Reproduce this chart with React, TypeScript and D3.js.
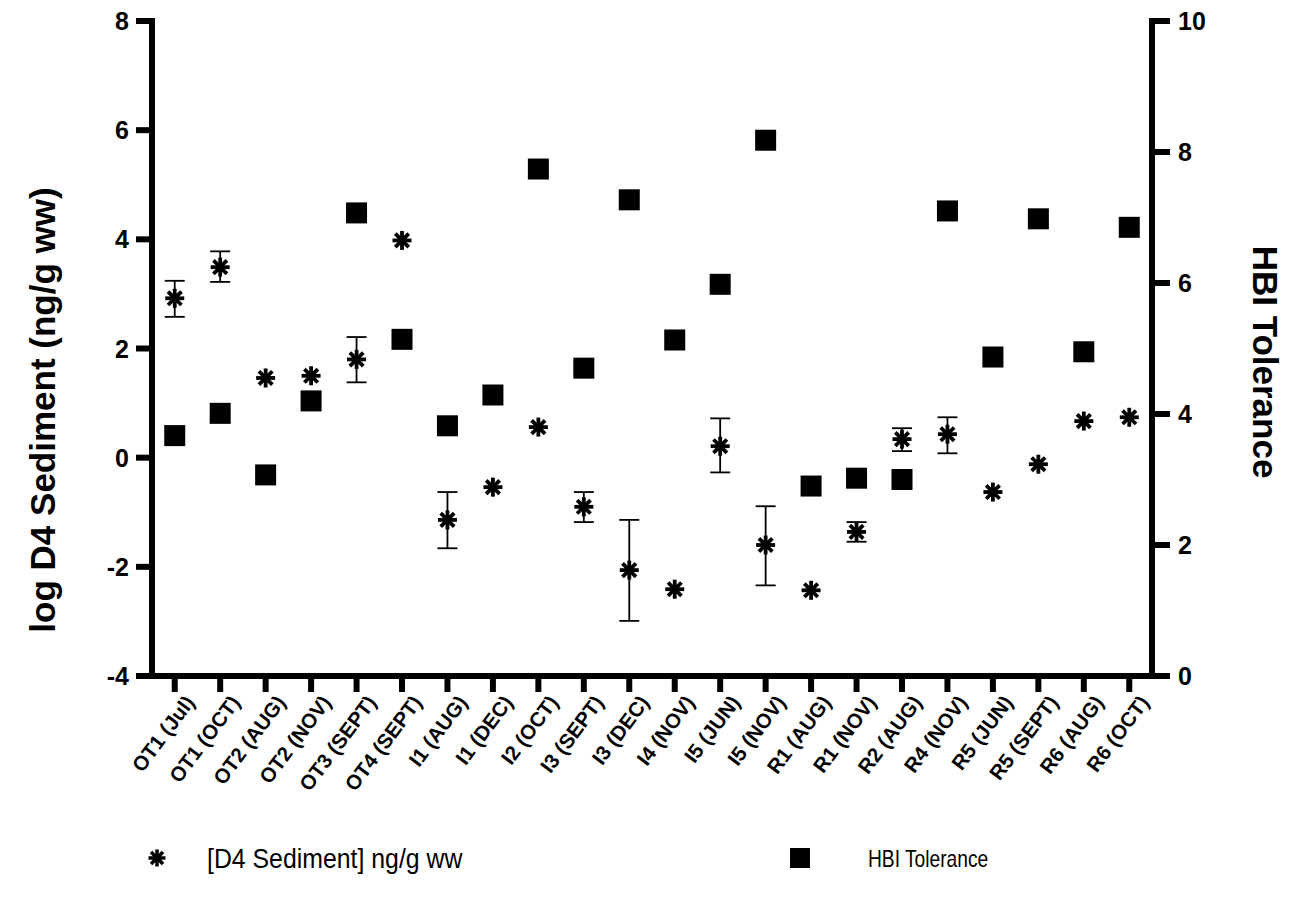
import React from "react";
import * as d3 from "d3";

const categories = ["OT1 (Jul)", "OT1 (OCT)", "OT2 (AUG)", "OT2 (NOV)", "OT3 (SEPT)", "OT4 (SEPT)", "I1 (AUG)", "I1 (DEC)", "I2 (OCT)", "I3 (SEPT)", "I3 (DEC)", "I4 (NOV)", "I5 (JUN)", "I5 (NOV)", "R1 (AUG)", "R1 (NOV)", "R2 (AUG)", "R4 (NOV)", "R5 (JUN)", "R5 (SEPT)", "R6 (AUG)", "R6 (OCT)"];
const d4Values = [2.92, 3.49, 1.46, 1.5, 1.8, 3.98, -1.14, -0.54, 0.56, -0.9, -2.06, -2.41, 0.21, -1.6, -2.43, -1.36, 0.34, 0.43, -0.63, -0.12, 0.67, 0.74];
const d4Upper: (number | null)[] = [3.24, 3.78, null, null, 2.21, null, -0.63, null, null, -0.63, -1.14, null, 0.72, -0.89, null, -1.18, 0.54, 0.74, null, null, null, null];
const d4Lower: (number | null)[] = [2.58, 3.22, null, null, 1.38, null, -1.66, null, null, -1.18, -2.99, null, -0.27, -2.34, null, -1.54, 0.12, 0.08, null, null, null, null];
const hbiValues = [3.67, 4.01, 3.07, 4.2, 7.07, 5.14, 3.82, 4.29, 7.74, 4.7, 7.27, 5.13, 5.98, 8.18, 2.9, 3.02, 3.0, 7.1, 4.87, 6.98, 4.95, 6.85];
const leftTicks = [-4, -2, 0, 2, 4, 6, 8];
const rightTicks = [0, 2, 4, 6, 8, 10];

const FONT = "'Liberation Sans', Arial, sans-serif";

function Asterisk({ cx, cy, r = 9.5, sw = 3.8 }: { cx: number; cy: number; r?: number; sw?: number }) {
  const arms = [0, 45, 90, 135];
  return (
    <g>
      {arms.map((a) => {
        const rad = (a * Math.PI) / 180;
        const dx = Math.cos(rad) * r;
        const dy = Math.sin(rad) * r;
        return <line key={a} x1={cx - dx} y1={cy - dy} x2={cx + dx} y2={cy + dy} stroke="#000" strokeWidth={sw} />;
      })}
    </g>
  );
}

export default function App() {
  const left = 152, right = 1152, top = 21, bottom = 676;
  const x = d3.scaleBand<string>().domain(categories).range([left, right]);
  const xc = (c: string) => (x(c) as number) + x.bandwidth() / 2;
  const yL = d3.scaleLinear().domain([-4, 8]).range([bottom, top]);
  const yR = d3.scaleLinear().domain([0, 10]).range([bottom, top]);
  const axisW = 6;
  const tickLen = 16;
  const sq = 21;

  return (
    <svg width={1300} height={907} style={{ position: "absolute", left: 0, top: 0, background: "#fff" }} fontFamily={FONT}>
      <rect x={0} y={0} width={1300} height={907} fill="#fff" />
      {/* left axis */}
      <line x1={left} y1={top - axisW / 2} x2={left} y2={bottom + axisW / 2} stroke="#000" strokeWidth={axisW} />
      {leftTicks.map((t) => (
        <g key={"l" + t}>
          <line x1={left - tickLen} x2={left} y1={yL(t)} y2={yL(t)} stroke="#000" strokeWidth={axisW} />
          <text x={left - 23} y={yL(t)} dy="0.36em" textAnchor="end" fontSize={25} fontWeight="bold">{t}</text>
        </g>
      ))}
      {/* right axis */}
      <line x1={right} y1={top - axisW / 2} x2={right} y2={bottom + axisW / 2} stroke="#000" strokeWidth={axisW} />
      {rightTicks.map((t) => (
        <g key={"r" + t}>
          <line x1={right} x2={right + tickLen + 2} y1={yR(t)} y2={yR(t)} stroke="#000" strokeWidth={axisW} />
          <text x={right + 26} y={yR(t)} dy="0.36em" textAnchor="start" fontSize={25} fontWeight="bold">{t}</text>
        </g>
      ))}
      {/* bottom axis */}
      <line x1={left - axisW / 2} x2={right + axisW / 2} y1={bottom} y2={bottom} stroke="#000" strokeWidth={axisW} />
      {categories.map((c) => (
        <g key={"x" + c}>
          <line x1={xc(c)} x2={xc(c)} y1={bottom} y2={bottom + tickLen} stroke="#000" strokeWidth={axisW} />
          <text transform={`translate(${xc(c) + 15},${bottom + 22}) rotate(-53)`} textAnchor="end" fontSize={20.5} fontWeight="bold" dy="0.36em">{c}</text>
        </g>
      ))}
      {/* axis titles */}
      <text transform={`translate(42,410) rotate(-90)`} textAnchor="middle" fontSize={35} fontWeight="bold" dy="0.36em">{"log  D4 Sediment (ng/g ww)"}</text>
      <text transform={`translate(1266,362) rotate(90)`} textAnchor="middle" fontSize={35} fontWeight="bold" dy="0.36em">HBI Tolerance</text>
      {/* HBI squares */}
      {categories.map((c, i) => (
        <rect key={"s" + c} x={xc(c) - sq / 2} y={yR(hbiValues[i]) - sq / 2} width={sq} height={sq} fill="#000" />
      ))}
      {/* error bars */}
      {categories.map((c, i) => {
        const u = d4Upper[i], l = d4Lower[i];
        if (u == null || l == null) return null;
        const cx = xc(c);
        return (
          <g key={"e" + c} stroke="#000" strokeWidth={1.8}>
            <line x1={cx} x2={cx} y1={yL(u)} y2={yL(l)} />
            <line x1={cx - 10} x2={cx + 10} y1={yL(u)} y2={yL(u)} />
            <line x1={cx - 10} x2={cx + 10} y1={yL(l)} y2={yL(l)} />
          </g>
        );
      })}
      {/* D4 asterisks */}
      {categories.map((c, i) => (
        <Asterisk key={"a" + c} cx={xc(c)} cy={yL(d4Values[i])} />
      ))}
      {/* legend */}
      <Asterisk cx={157} cy={858} r={8.5} sw={3.5} />
      <text x={207} y={858} dy="0.36em" fontSize={27} transform="translate(207,0) scale(0.92,1) translate(-207,0)">[D4 Sediment] ng/g ww</text>
      <rect x={790} y={848} width={20} height={20} fill="#000" />
      <text x={868} y={858} dy="0.36em" fontSize={24} transform="translate(868,0) scale(0.8,1) translate(-868,0)">HBI Tolerance</text>
    </svg>
  );
}
